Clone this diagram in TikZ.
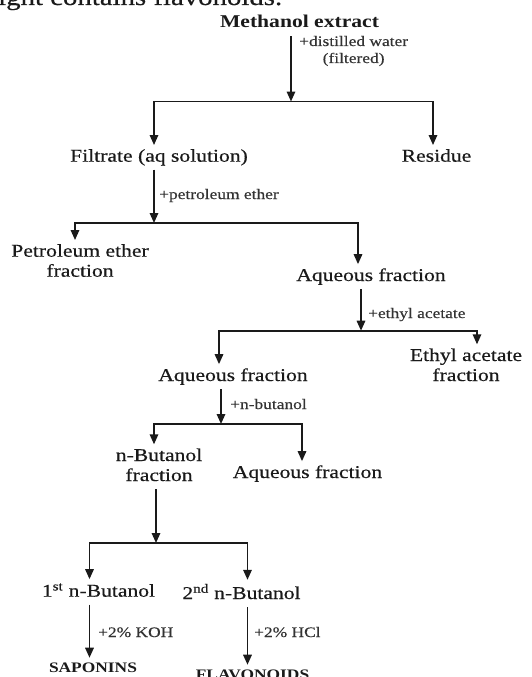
\documentclass[tikz,border=0pt]{standalone}
\usepackage{fontspec}
\setmainfont{Liberation Serif}[FakeStretch=1.2, UprightFeatures={FakeBold=0.4}]
\usetikzlibrary{arrows.meta}
\definecolor{ink}{HTML}{1A1A1A}
\definecolor{lab}{HTML}{333333}
\tikzset{
  main/.style={font=\fontsize{18}{20}\selectfont, text=ink, inner xsep=0pt, inner ysep=4pt,
    anchor=base, align=center, execute at begin node={\vphantom{(}}},
  mainb/.style={main, font=\fontsize{18}{20}\selectfont\bfseries},
  lbl/.style={font=\fontsize{14.5}{17}\selectfont, text=lab, inner sep=0pt, anchor=base west, align=center},
  res/.style={font=\fontsize{14.5}{17}\selectfont\bfseries, text=ink, inner xsep=0pt, inner ysep=4pt,
    anchor=base, execute at begin node={\vphantom{(}}},
  arr/.style={draw=ink, line width=1.6pt, -{Triangle[length=10pt,width=8.5pt]}},
  fork/.style={draw=ink, line width=1.6pt, {Triangle[length=10pt,width=8.5pt]}-{Triangle[length=10pt,width=8.5pt]}},
}
\begin{document}
\begin{tikzpicture}[x=1pt,y=-1pt]
\useasboundingbox (0,0) rectangle (531,677);
\fill[white] (0,0) rectangle (531,677);
% clipped document text at top
\node[font=\fontsize{24}{28}\selectfont, text=ink, inner sep=0pt, anchor=base west] (toptext) at (-2,5) {ight contains flavonoids.};
% nodes
\node[mainb] (meth) at (299.5,28) {Methanol extract};
\node[main] (filt) at (159,161.7) {Filtrate (aq solution)};
\node[main] (resid) at (436.5,161.7) {Residue};
\node[main] (petr) at (80,276.7) {Petroleum ether\\fraction};
\node[main] (aq1) at (371,281) {Aqueous fraction};
\node[main] (aq2) at (233,381) {Aqueous fraction};
\node[main] (etac) at (466,381) {Ethyl acetate\\fraction};
\node[main] (buf) at (159,481) {n-Butanol\\fraction\vphantom{(}};
\node[main] (aq3) at (307.5,478) {Aqueous fraction};
\node[main] (bu1) at (98.5,596.7) {1\textsuperscript{st} n-Butanol};
\node[main] (bu2) at (241.5,599) {2\textsuperscript{nd} n-Butanol};
\node[res] (sap) at (93,672) {SAPONINS};
\node[res] (flav) at (252.5,679) {FLAVONOIDS};
% labels
\node[lbl] (l0) at (299,63) {+distilled water\\(filtered)};
\node[lbl] (l1) at (159,199) {+petroleum ether};
\node[lbl] (l2) at (368,318) {+ethyl acetate};
\node[lbl] (l3) at (230,409) {+n-butanol};
\node[lbl] (l4) at (98,637) {+2\% KOH};
\node[lbl] (l5) at (254,637) {+2\% HCl};
% junctions and bar ends
\coordinate (j0) at (291,101.5);
\coordinate (b0l) at (154,101.5);
\coordinate (b0r) at (433,101.5);
\coordinate (j1) at (154,223);
\coordinate (b1l) at (75,223);
\coordinate (b1r) at (358,223);
\coordinate (j2) at (361,330.7);
\coordinate (b2l) at (219,330.7);
\coordinate (b2r) at (477,330.7);
\coordinate (j3) at (221,424);
\coordinate (b3l) at (154,424);
\coordinate (b3r) at (302,424);
\coordinate (j4) at (156,543);
\coordinate (b4l) at (89.5,543);
\coordinate (b4r) at (247.5,543);
% connectors
\draw[arr] (meth.south -| j0) -- (j0);
\draw[fork] (b0l |- filt.north) -- (b0l) -- (b0r) -- (b0r |- resid.north);
\draw[arr] (filt.south -| j1) -- (j1);
\draw[fork] (b1l |- petr.north) -- (b1l) -- (b1r) -- (b1r |- aq1.north);
\draw[arr] (aq1.south -| j2) -- (j2);
\draw[fork] (b2l |- aq2.north) -- (b2l) -- (b2r) -- (b2r |- etac.north);
\draw[arr] (aq2.south -| j3) -- (j3);
\draw[fork] (b3l |- buf.north) -- (b3l) -- (b3r) -- (b3r |- aq3.north);
\draw[arr] (buf.south -| j4) -- (j4);
\draw[fork] (b4l |- bu1.north) -- (b4l) -- (b4r) -- (b4r |- bu2.north);
\draw[arr] (bu1.south -| b4l) -- (b4l |- sap.north);
\draw[arr] (bu2.south -| b4r) -- (b4r |- flav.north);
\end{tikzpicture}
\end{document}
